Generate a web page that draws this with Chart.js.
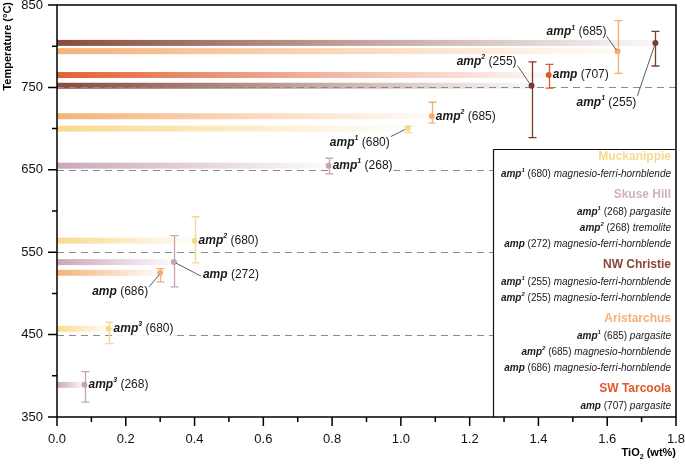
<!DOCTYPE html>
<html><head><meta charset="utf-8">
<script src="https://cdn.jsdelivr.net/npm/chart.js@4/dist/chart.umd.min.js"></script>
<style>html,body{margin:0;padding:0;background:#fff}#wrap{width:685px;height:465px;position:relative}</style>
</head><body><div id="wrap"><canvas id="c" width="685" height="465"></canvas></div>
<script>
// ---- data ----
const siteNames = ['Muckanippie', 'Skuse Hill', 'NW Christie', 'Aristarchus', 'SW Tarcoola'];
const pointSite   = [0, 0, 0, 1, 1, 1, 2, 2, 3, 3, 3, 4];
const pointSup    = ['1', '2', '3', '1', '3', '', '1', '2', '1', '2', '', ''];
const pointSample = ['680', '680', '680', '268', '268', '272', '255', '255', '685', '685', '686', '707'];
const tio2        = [1.02, 0.40, 0.15, 0.79, 0.08, 0.34, 1.74, 1.38, 1.63, 1.09, 0.30, 1.43];
const temp        = [700, 564, 457, 655, 389, 538, 804, 752, 794, 715, 525, 765];
const tempLow     = [695, 537, 439, 645, 368, 508, 776, 689, 767, 707, 514, 749];
const tempHigh    = [703, 593, 465, 664, 405, 570, 818, 781, 831, 732, 530, 778];
const refTemps    = [750, 650, 550, 450];
const legendSite    = [0, 1, 1, 1, 2, 2, 3, 3, 3, 4];
const legendSup     = ['1', '1', '2', '', '1', '2', '1', '2', '', ''];
const legendSample  = ['680', '268', '268', '272', '255', '255', '685', '685', '686', '707'];
const legendMineral = ['magnesio-ferri-hornblende', 'pargasite', 'tremolite', 'magnesio-ferri-hornblende',
  'magnesio-ferri-hornblende', 'magnesio-ferri-hornblende', 'pargasite', 'magnesio-hornblende',
  'magnesio-ferri-hornblende', 'pargasite'];
const yTickLabels = [350, 450, 550, 650, 750, 850];
const xTickLabels = [0.0, 0.2, 0.4, 0.6, 0.8, 1.0, 1.2, 1.4, 1.6, 1.8];

// ---- styles / placement ----
const siteColors = ['rgb(248,216,138)', 'rgb(200,162,182)', 'rgb(123,59,45)', 'rgb(245,174,114)', 'rgb(224,88,42)'];
const siteRGB = [[248,216,138],[200,162,182],[130,66,52],[245,174,114],[224,90,44]];
const legendTitleColors = ['#f8d98f', '#d2b0c2', '#8b4636', '#f5b07a', '#e2582a'];
// label placement relative to point pixel: dx, dy, align, leader [from offset, to offset]
const labelPlace = [
  {dx:-18, dy:14, align:'right', lead:[[-3,1],[-17,8]]},
  {dx:4, dy:0, align:'left'},
  {dx:5, dy:0, align:'left'},
  {dx:4, dy:0, align:'left'},
  {dx:4, dy:0, align:'left'},
  {dx:29, dy:13, align:'left', lead:[[2,1],[27,14]]},
  {dx:-19, dy:60, align:'right', lead:[[-1,3],[-18,53]]},
  {dx:-15, dy:-24, align:'right', lead:[[-1,-1],[-14,-20]]},
  {dx:-11, dy:-19, align:'right', lead:[[-1,-1],[-11,-15]]},
  {dx:4, dy:0, align:'left'},
  {dx:-12, dy:19, align:'right', lead:[[-1,2],[-11,14]]},
  {dx:4, dy:0, align:'left'}
];
const FF = "'Liberation Sans', Arial, Helvetica, sans-serif";

function partsFor(sup, sample, size, mineral) {
  const p = [{t:'amp', f:'italic bold ' + size + 'px ' + FF, dy:0}];
  if (sup) p.push({t:sup, f:'italic bold ' + Math.round(size*0.62) + 'px ' + FF, dy:-size*0.38});
  p.push({t:' (' + sample + ')', f:size + 'px ' + FF, dy:0});
  if (mineral) p.push({t:' ' + mineral, f:'italic ' + size + 'px ' + FF, dy:0});
  return p;
}
function widthOf(ctx, parts) {
  let w = 0; parts.forEach(p => { ctx.font = p.f; w += ctx.measureText(p.t).width; }); return w;
}
function drawParts(ctx, x, y, parts, color) {
  ctx.textBaseline = 'middle'; ctx.textAlign = 'left'; ctx.fillStyle = color;
  parts.forEach(p => { ctx.font = p.f; ctx.fillText(p.t, x, y + p.dy); x += ctx.measureText(p.t).width; });
}

const datasets = siteNames.map((name, s) => ({
  label: name,
  data: tio2.map((x, i) => ({x: x, y: temp[i], i: i})).filter(d => pointSite[d.i] === s),
  backgroundColor: siteColors[s], borderColor: siteColors[s],
  pointRadius: 3, pointHoverRadius: 3, borderWidth: 0, showLine: false
}));

const drawPlugin = {
  id: 'custom',
  beforeDatasetsDraw(chart) {
    const ctx = chart.ctx, xs = chart.scales.x, ys = chart.scales.y, ca = chart.chartArea;
    ctx.save();
    // gradient bars
    tio2.forEach((v, i) => {
      const x0 = xs.getPixelForValue(0), x1 = xs.getPixelForValue(v), y = ys.getPixelForValue(temp[i]);
      const c = siteRGB[pointSite[i]];
      const g = ctx.createLinearGradient(x0, 0, x1, 0);
      g.addColorStop(0, 'rgba(' + c.join(',') + ',0.95)');
      g.addColorStop(1, 'rgba(' + c.join(',') + ',0.04)');
      ctx.fillStyle = g; ctx.fillRect(x0, y - 3, x1 - x0, 6);
    });
    // dashed reference lines
    ctx.strokeStyle = '#8a8a8a'; ctx.lineWidth = 1; ctx.setLineDash([7, 5]);
    refTemps.forEach(t => {
      const y = Math.round(ys.getPixelForValue(t)) + 0.5;
      ctx.beginPath(); ctx.moveTo(ca.left, y); ctx.lineTo(ca.right, y); ctx.stroke();
    });
    ctx.setLineDash([]);
    // error bars
    tio2.forEach((v, i) => {
      const x = Math.round(xs.getPixelForValue(v)) + 0.5;
      const yl = ys.getPixelForValue(tempLow[i]), yh = ys.getPixelForValue(tempHigh[i]);
      ctx.strokeStyle = siteColors[pointSite[i]]; ctx.lineWidth = 1.3;
      ctx.beginPath();
      ctx.moveTo(x, yl); ctx.lineTo(x, yh);
      ctx.moveTo(x - 4, yl); ctx.lineTo(x + 4, yl);
      ctx.moveTo(x - 4, yh); ctx.lineTo(x + 4, yh);
      ctx.stroke();
    });
    ctx.restore();
  },
  afterDatasetsDraw(chart) {
    const ctx = chart.ctx, xs = chart.scales.x, ys = chart.scales.y, ca = chart.chartArea;
    ctx.save();
    // point labels
    tio2.forEach((v, i) => {
      const px = xs.getPixelForValue(v), py = ys.getPixelForValue(temp[i]);
      const pl = labelPlace[i];
      const parts = partsFor(pointSup[i], pointSample[i], 12, '');
      const w = widthOf(ctx, parts);
      const ax = px + pl.dx, ay = py + pl.dy;
      const sx = pl.align === 'right' ? ax - w : ax;
      ctx.fillStyle = '#fff'; ctx.fillRect(sx - 1, ay - 7, w + 2, 14);
      if (pl.lead) {
        ctx.strokeStyle = '#333'; ctx.lineWidth = 0.8;
        ctx.beginPath();
        ctx.moveTo(px + pl.lead[0][0], py + pl.lead[0][1]);
        ctx.lineTo(px + pl.lead[1][0], py + pl.lead[1][1]);
        ctx.stroke();
      }
      drawParts(ctx, sx, ay, parts, '#1a1a1a');
    });
    // legend box
    const bx = 493, by = 149;
    ctx.fillStyle = '#fff'; ctx.fillRect(bx, by, ca.right - bx, ca.bottom - by);
    ctx.strokeStyle = '#111'; ctx.lineWidth = 1.2;
    ctx.beginPath(); ctx.moveTo(bx + 0.5, ca.bottom); ctx.lineTo(bx + 0.5, by + 0.5); ctx.lineTo(ca.right, by + 0.5); ctx.stroke();
    let y = by + 8, prevSite = -1;
    const rx = ca.right - 5;
    legendSite.forEach((s, k) => {
      if (s !== prevSite) {
        if (prevSite !== -1) y += 21;
        ctx.font = 'bold 12px ' + FF; ctx.textAlign = 'right'; ctx.textBaseline = 'middle';
        ctx.fillStyle = legendTitleColors[s]; ctx.fillText(siteNames[s], rx, y);
        y += 17; prevSite = s;
      } else { y += 16; }
      const parts = partsFor(legendSup[k], legendSample[k], 10, legendMineral[k]);
      const w = widthOf(ctx, parts);
      drawParts(ctx, rx - w, y, parts, '#1a1a1a');
    });
    // frame
    ctx.strokeStyle = '#000'; ctx.lineWidth = 1.5;
    ctx.beginPath();
    ctx.moveTo(ca.left, ca.bottom); ctx.lineTo(ca.left, ca.top); ctx.lineTo(ca.right, ca.top);
    ctx.lineTo(ca.right, ca.bottom); ctx.lineTo(ca.left, ca.bottom); ctx.stroke();
    // ticks
    ctx.lineWidth = 1.5;
    ctx.beginPath();
    for (let t = 350; t <= 850; t += 50) {
      const yy = ys.getPixelForValue(t); const L = yTickLabels.includes(t) ? 9 : 5;
      ctx.moveTo(ca.left - L, yy); ctx.lineTo(ca.left, yy);
    }
    for (let k = 0; k <= 18; k++) {
      const xx = xs.getPixelForValue(k / 10); const L = k % 2 === 0 ? 9 : 5;
      ctx.moveTo(xx, ca.bottom); ctx.lineTo(xx, ca.bottom + L);
    }
    ctx.stroke();
    // axis titles
    ctx.fillStyle = '#000'; ctx.textBaseline = 'middle';
    ctx.save(); ctx.translate(8, ca.top - 3); ctx.rotate(-Math.PI / 2);
    ctx.font = 'bold 11px ' + FF; ctx.textAlign = 'right'; ctx.fillText('Temperature (°C)', 0, 0);
    ctx.restore();
    const tparts = [{t:'TiO', f:'bold 11px ' + FF, dy:0}, {t:'2', f:'bold 7px ' + FF, dy:4}, {t:' (wt%)', f:'bold 11px ' + FF, dy:0}];
    const tw = widthOf(ctx, tparts);
    drawParts(ctx, ca.right - tw, 453, tparts, '#000');
    ctx.restore();
  }
};

new Chart(document.getElementById('c'), {
  type: 'scatter',
  data: {datasets: datasets},
  options: {
    responsive: false, animation: false, devicePixelRatio: 1,
    layout: {padding: {left: 0, top: 5, right: 9, bottom: 0}},
    plugins: {legend: {display: false}, tooltip: {enabled: false}},
    scales: {
      x: {
        type: 'linear', min: 0, max: 1.8,
        afterFit(s) { s.height = 48; s.paddingLeft = 0; s.paddingRight = 0; },
        afterBuildTicks(s) { s.ticks = []; for (let k = 0; k <= 18; k++) s.ticks.push({value: k / 10}); },
        ticks: {autoSkip: false, maxRotation: 0, padding: 6, color: '#111',
          font: {family: FF, size: 13},
          callback: (v) => { const r = Math.round(v * 10) / 10; return xTickLabels.some(t => Math.abs(t - r) < 1e-6) ? r.toFixed(1) : ''; }},
        grid: {display: true, drawOnChartArea: false, drawTicks: true, tickLength: 9, color: 'rgba(0,0,0,0)', tickColor: 'rgba(0,0,0,0)'},
        border: {display: false}
      },
      y: {
        type: 'linear', min: 350, max: 850,
        afterFit(s) { s.width = 57; s.paddingTop = 0; s.paddingBottom = 0; },
        afterBuildTicks(s) { s.ticks = []; for (let t = 350; t <= 850; t += 50) s.ticks.push({value: t}); },
        ticks: {autoSkip: false, padding: 5, color: '#111', font: {family: FF, size: 13},
          callback: (v) => yTickLabels.includes(v) ? String(v) : ''},
        grid: {display: true, drawOnChartArea: false, drawTicks: true, tickLength: 9, color: 'rgba(0,0,0,0)', tickColor: 'rgba(0,0,0,0)'},
        border: {display: false}
      }
    }
  },
  plugins: [drawPlugin]
});
</script></body></html>
